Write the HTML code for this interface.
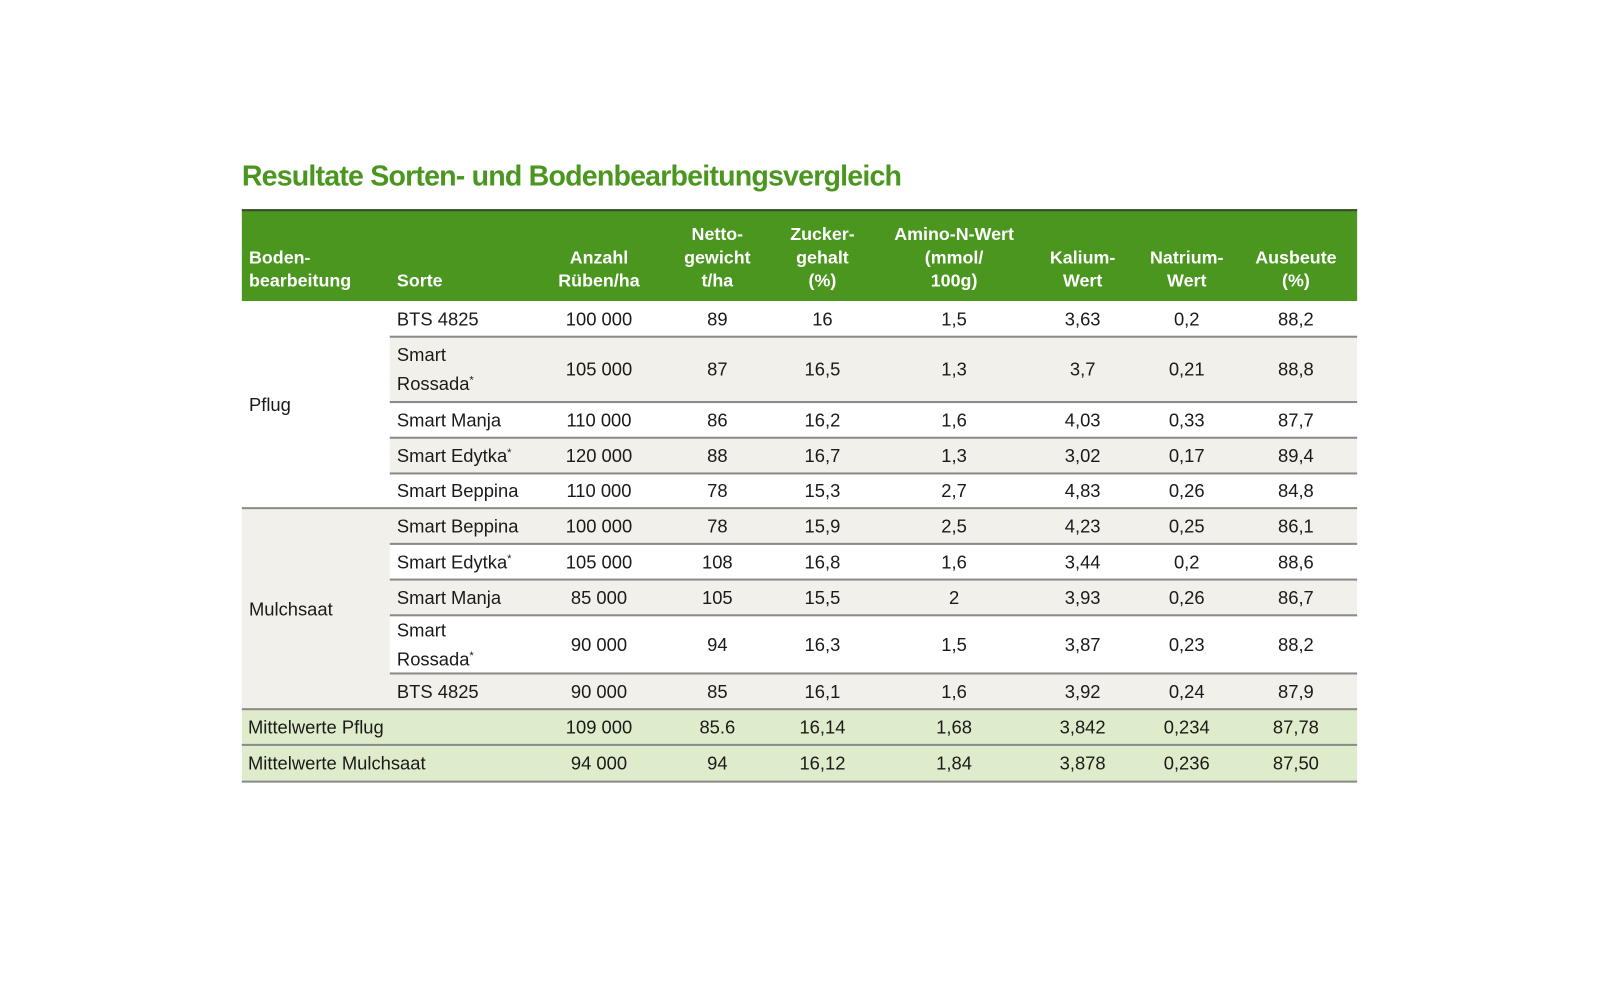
<!DOCTYPE html>
<html><head><meta charset="utf-8"><style>
body{margin:0;width:1600px;height:984px;background:#fff;overflow:hidden}
#w{position:absolute;left:0;top:0;width:1568px;height:964px;transform:scale(1.0204);transform-origin:0 0;font-family:"Liberation Sans",sans-serif;color:#1a1a1a}
.t{position:absolute;left:237px;top:157px;font-size:28px;font-weight:bold;color:#4a961f;letter-spacing:-0.8px}
.hd{position:absolute;left:237px;top:205px;width:1093px;height:90px;background:#4a961f;border-top:2px solid #3a4a30;box-sizing:border-box}
.hc{position:absolute;color:#fff;font-weight:bold;font-size:17.5px;line-height:23px;text-align:center;bottom:8px}
.r{position:absolute;font-size:18px}
.c{position:absolute;width:140px;text-align:center;top:50%;transform:translateY(-50%);line-height:28px}
.s{position:absolute;left:7px;top:50%;transform:translateY(-50%);line-height:28px}
.ln{position:absolute;height:2px;background:#8a8a8a}
sup{font-size:11px;vertical-align:6px;line-height:0}
</style></head><body><div id="w">
<div class="t">Resultate Sorten- und Bodenbearbeitungsvergleich</div>
<div class="hd">
<div class="hc" style="left:7px;text-align:left">Boden-<br>bearbeitung</div>
<div class="hc" style="left:152px;text-align:left">Sorte</div>
<div class="hc" style="left:280px;width:140px">Anzahl<br>Rüben/ha</div>
<div class="hc" style="left:396px;width:140px">Netto-<br>gewicht<br>t/ha</div>
<div class="hc" style="left:499px;width:140px">Zucker-<br>gehalt<br>(%)</div>
<div class="hc" style="left:618px;width:160px">Amino-N-Wert<br>(mmol/<br>100g)</div>
<div class="hc" style="left:754px;width:140px">Kalium-<br>Wert</div>
<div class="hc" style="left:856px;width:140px">Natrium-<br>Wert</div>
<div class="hc" style="left:963px;width:140px">Ausbeute<br>(%)</div>
</div>
<div style="position:absolute;left:237px;top:498px;width:145px;height:197px;background:#f1f0eb"></div>
<div class="r" style="left:237px;top:295px;width:145px;height:203px"><div class="s">Pflug</div></div>
<div class="r" style="left:237px;top:498px;width:145px;height:197px"><div class="s">Mulchsaat</div></div>
<div id="rows"></div>
</div>
<script>
const rows=[
[295,35,0,"BTS 4825",["100 000","89","16","1,5","3,63","0,2","88,2"]],
[330,64,1,"Smart<br>Rossada<sup>*</sup>",["105 000","87","16,5","1,3","3,7","0,21","88,8"]],
[394,35,0,"Smart Manja",["110 000","86","16,2","1,6","4,03","0,33","87,7"]],
[429,35,1,"Smart Edytka<sup>*</sup>",["120 000","88","16,7","1,3","3,02","0,17","89,4"]],
[464,34,0,"Smart Beppina",["110 000","78","15,3","2,7","4,83","0,26","84,8"]],
[498,35,1,"Smart Beppina",["100 000","78","15,9","2,5","4,23","0,25","86,1"]],
[533,35,0,"Smart Edytka<sup>*</sup>",["105 000","108","16,8","1,6","3,44","0,2","88,6"]],
[568,35,1,"Smart Manja",["85 000","105","15,5","2","3,93","0,26","86,7"]],
[603,57,0,"Smart<br>Rossada<sup>*</sup>",["90 000","94","16,3","1,5","3,87","0,23","88,2"]],
[660,35,1,"BTS 4825",["90 000","85","16,1","1,6","3,92","0,24","87,9"]],
[695,35,2,"Mittelwerte Pflug",["109 000","85.6","16,14","1,68","3,842","0,234","87,78"]],
[730,36,2,"Mittelwerte Mulchsaat",["94 000","94","16,12","1,84","3,878","0,236","87,50"]]
];
const cx=[587,703,806,935,1061,1163,1270];
let h="";
for(const [t,ht,bg,name,v] of rows){
 const full=bg==2;
 const L=full?237:382;
 const col=bg==1?"#f1f0eb":bg==2?"#dfeccb":"transparent";
 h+=`<div class="r" style="left:${L}px;top:${t}px;width:${1330-L}px;height:${ht}px;background:${col}">`;
 h+=`<div class="s" style="left:${full?6:7}px">${name}</div>`;
 v.forEach((x,i)=>{h+=`<div class="c" style="left:${cx[i]-70-L}px">${x}</div>`});
 h+="</div>";
}
const lines=[[382,329],[382,393],[382,428],[382,463],[237,497],[382,532],[382,567],[382,602],[382,659],[237,694],[237,729],[237,765]];
for(const [l,y] of lines) h+=`<div class="ln" style="left:${l}px;top:${y}px;width:${1330-l}px"></div>`;
document.getElementById("rows").innerHTML=h;
</script>
</body></html>
